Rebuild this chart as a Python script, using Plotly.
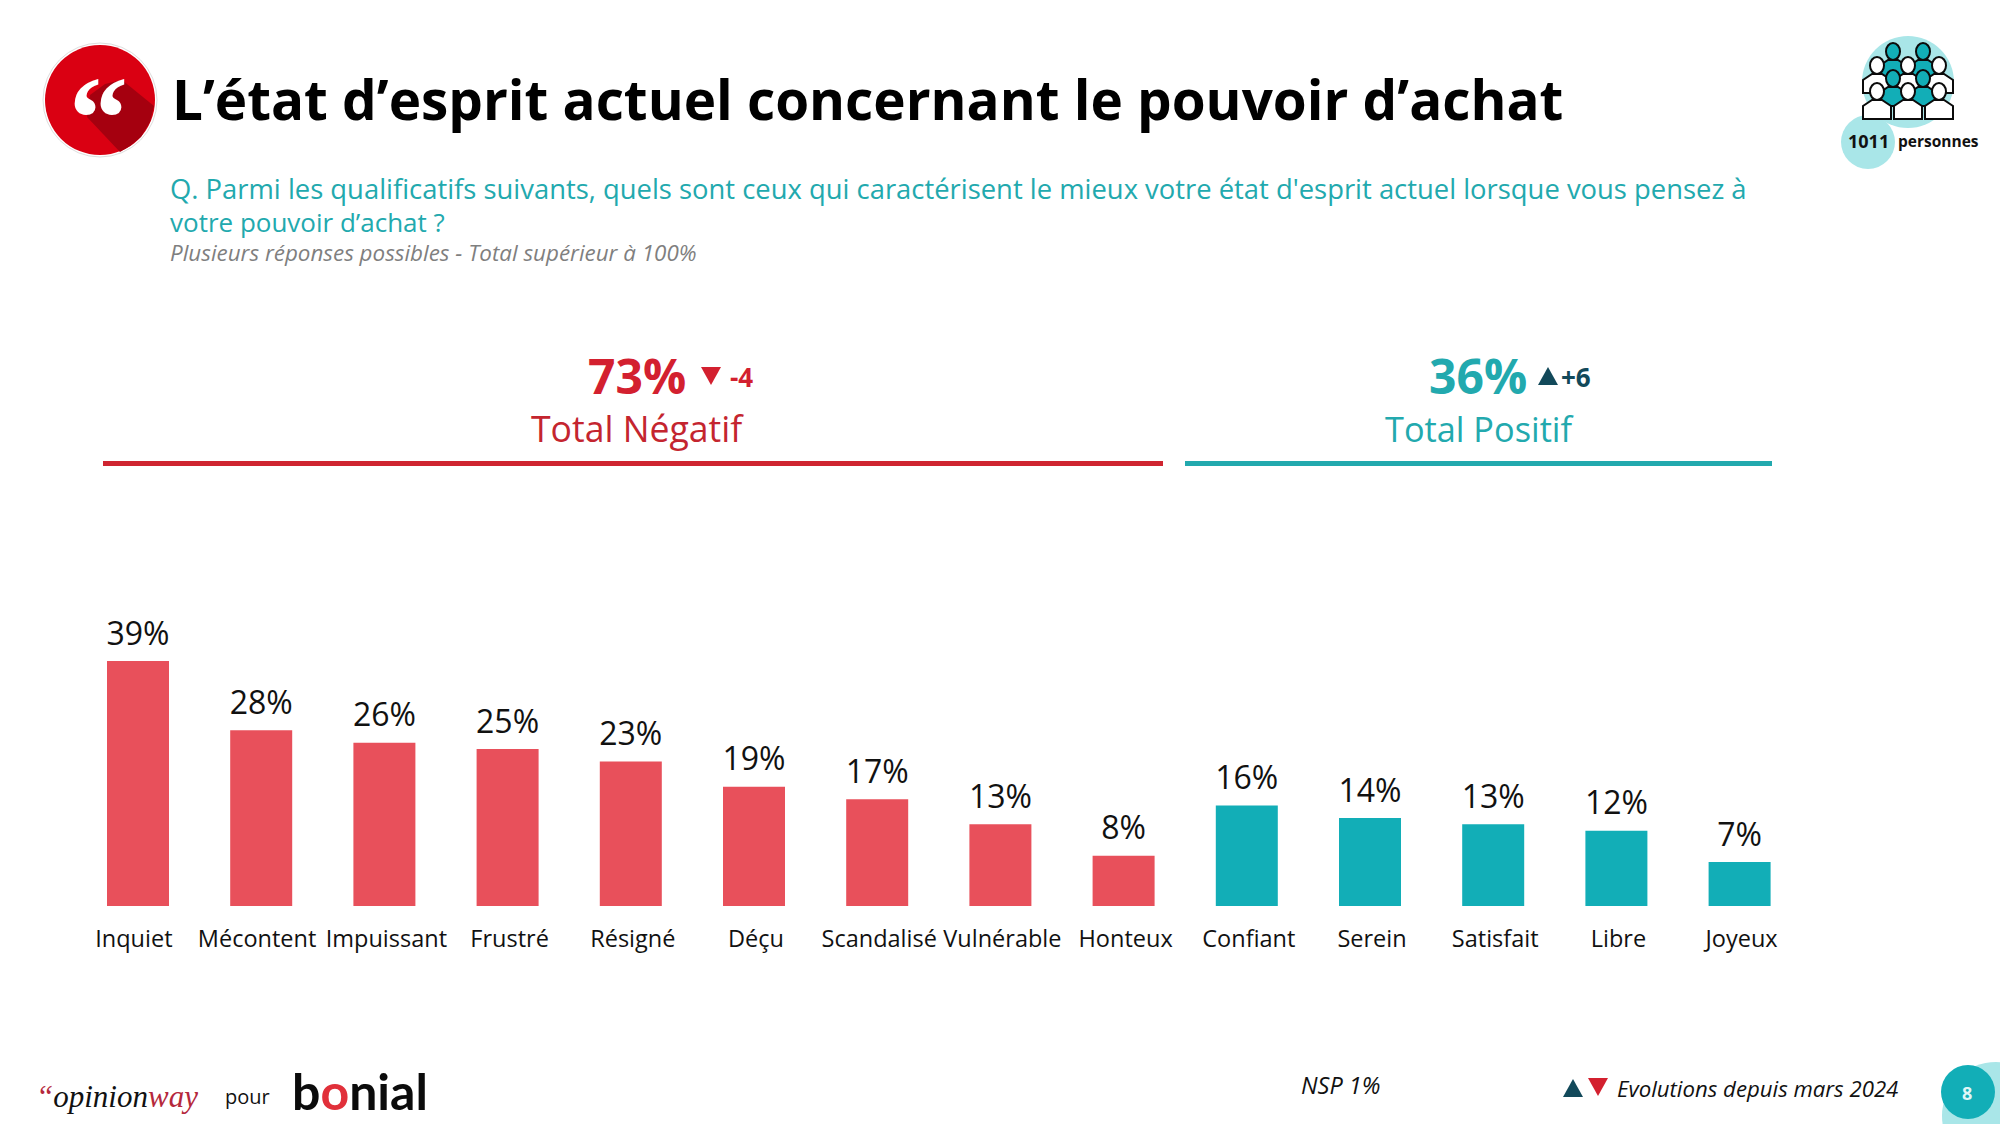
import plotly.graph_objects as go

W, H = 2000, 1124
neg_categories = ["Inquiet", "Mécontent", "Impuissant", "Frustré", "Résigné", "Déçu", "Scandalisé", "Vulnérable", "Honteux"]
neg_values = [39, 28, 26, 25, 23, 19, 17, 13, 8]
pos_categories = ["Confiant", "Serein", "Satisfait", "Libre", "Joyeux"]
pos_values = [16, 14, 13, 12, 7]
tick_labels = ["Inquiet\u00a0\u00a0", "Mécontent\u00a0\u00a0", "Impuissant", "Frustré", "Résigné", "Déçu", "Scandalisé",
               "Vulnérable", "Honteux", "Confiant", "Serein", "Satisfait", "Libre", "Joyeux"]

FONT = "Open Sans"
RED_BAR, TEAL_BAR = "#E8505B", "#12AEB7"
RED, TEAL, DARK = "#D3202F", "#22A9AE", "#12495A"
LIGHT = "#A9E6E8"

def px(x): return x / W
def py(y): return 1 - y / H

shapes, annotations = [], []

def text(x, y, s, size, color="#000", anchor="left", bold=False, italic=False, font=FONT):
    t = s
    if bold: t = f"<b>{t}</b>"
    if italic: t = f"<i>{t}</i>"
    annotations.append(dict(x=px(x), y=py(y), xref="paper", yref="paper", text=t, showarrow=False,
                            xanchor=anchor, yanchor="middle", align=anchor,
                            font=dict(family=font, size=size, color=color),
                            borderpad=0, borderwidth=0))

def circle(cx, cy, r, fill, line=None, lw=0):
    shapes.append(dict(type="circle", xref="paper", yref="paper", x0=px(cx - r), x1=px(cx + r),
                       y0=py(cy + r), y1=py(cy - r), fillcolor=fill, line=dict(color=line or fill, width=lw), layer="above"))

def poly(points, fill, line=None, lw=0):
    d = "M " + " L ".join(f"{px(x):.5f},{py(y):.5f}" for x, y in points) + " Z"
    shapes.append(dict(type="path", xref="paper", yref="paper", path=d, fillcolor=fill,
                       line=dict(color=line or fill, width=lw), layer="above"))

def rect(x0, y0, x1, y1, fill):
    shapes.append(dict(type="rect", xref="paper", yref="paper", x0=px(x0), x1=px(x1), y0=py(y1), y1=py(y0),
                       fillcolor=fill, line=dict(width=0), layer="above"))

# Title badge
circle(100, 100, 57, "#FFFFFF", "#DDDDDD", 1)
circle(100, 100, 55, "#DA0012")
poly([(87, 117), (90, 95), (105, 84), (122, 80), (154, 106), (150, 122), (141, 137), (130, 146), (120, 152)], "#A5000F")
text(98, 118, "“", 118, "#FFFFFF", "center", True, font="Liberation Serif")

# Header
text(172, 98, "L’état d’esprit actuel concernant le pouvoir d’achat", 54.8, "#000", bold=True)
text(170, 188, "Q. Parmi les qualificatifs suivants, quels sont ceux qui caractérisent le mieux votre état d'esprit actuel lorsque vous pensez à", 27.4, TEAL)
text(170, 222, "votre pouvoir d’achat ?", 26, TEAL)
text(170, 253, "Plusieurs réponses possibles - Total supérieur à 100%", 22.4, "#7F7F7F", italic=True)

# Group headers
text(637, 375, "73%", 48, RED, "center", True)
poly([(701, 367), (721, 367), (711, 385)], RED)
text(741, 377, "-4", 26, RED, "center", True)
text(637, 428, "Total Négatif", 35.6, "#C4252F", "center")
rect(103, 461, 1163, 466, "#CF2530")
text(1478, 375, "36%", 48, TEAL, "center", True)
poly([(1538, 385), (1558, 385), (1548, 367)], DARK)
text(1576, 377, "+6", 26, DARK, "center", True)
text(1480, 428, "Total Positif", 34.3, TEAL, "center")
rect(1185, 461, 1772, 466, TEAL)

# Sample icon
circle(1908, 82, 46, LIGHT)
circle(1868, 142, 27, LIGHT)
def person(cx, top, fill):
    b = top + 17
    poly([(cx - 14, b + 19), (cx - 14, b + 6), (cx - 5, b), (cx + 5, b), (cx + 14, b + 6), (cx + 14, b + 19)],
         fill, "#0B0B0B", 2)
    shapes.append(dict(type="circle", xref="paper", yref="paper", x0=px(cx - 7), x1=px(cx + 7), y0=py(top + 17), y1=py(top),
                       fillcolor=fill, line=dict(color="#0B0B0B", width=2), layer="above"))
for cx in (1893, 1923):
    person(cx, 43, TEAL_BAR)
for cx in (1877, 1908, 1939):
    person(cx, 57, "#FFFFFF")
for cx in (1893, 1923):
    person(cx, 70, TEAL_BAR)
for cx in (1877, 1908, 1939):
    person(cx, 83, "#FFFFFF")
text(1868, 141, "1011", 18, "#111", "center", True)
text(1898, 141, "personnes", 15.5, "#111", bold=True)

# Footer
text(36, 1096, "<span style='color:#B5283C'>“</span>opinion<span style='color:#B5283C'>way</span>", 31, "#111", italic=True, font="Liberation Serif")
text(225, 1096, "pour", 20, "#111", font=FONT)
text(292, 1091, "b<span style='color:#E1303A'>o</span>nial", 50, "#0B0B0B", bold=True, font="Lato")
text(1340, 1085, "NSP 1%", 23.5, "#111", "center", italic=True)
poly([(1563, 1097), (1583, 1097), (1573, 1079)], DARK)
poly([(1588, 1078), (1608, 1078), (1598, 1096)], RED)
text(1617, 1088, "Evolutions depuis mars 2024", 22.2, "#111", italic=True)
circle(1996, 1116, 54, LIGHT)
circle(1968, 1092, 27, TEAL_BAR)
text(1967, 1093, "8", 18, "#DFF6F6", "center", True)

categories = neg_categories + pos_categories
step, first = 123.2, 138
data_bar_width = 62 / step
traces = [(neg_categories, neg_values, RED_BAR), (pos_categories, pos_values, TEAL_BAR)]
fig = go.Figure()
for c, v, col in traces:
    fig.add_bar(x=c, y=v, marker=dict(color=col, line=dict(width=0)), width=data_bar_width, showlegend=False)
    fig.add_scatter(x=c, y=v, mode="markers+text", marker=dict(size=12, opacity=0), texttemplate="%{y}%",
                    textposition="top center", cliponaxis=False, hoverinfo="skip",
                    textfont=dict(family=FONT, size=32, color="#111"), showlegend=False)

fig.update_layout(
    width=W, height=H, autosize=False, margin=dict(l=0, r=0, t=0, b=0),
    paper_bgcolor="white", plot_bgcolor="white", barmode="overlay", showlegend=False,
    font=dict(family=FONT), shapes=shapes, annotations=annotations,
    xaxis=dict(type="category", categoryorder="array", categoryarray=categories,
               tickmode="array", tickvals=categories, ticktext=tick_labels, tickangle=0,
               range=[-first / step, (W - first) / step], domain=[0, 1], showgrid=False, zeroline=False,
               showline=False, ticks="", ticklabelshift=2, ticklabelstandoff=16,
               tickfont=dict(family=FONT, size=23.5, color="#111"), fixedrange=True),
    yaxis=dict(range=[0, 906 / 6.28], domain=[1 - 906 / H, 1], visible=False, fixedrange=True),
)
fig.write_html("out.html", config={"displayModeBar": False},
               post_script="document.body.style.margin='0';document.documentElement.style.overflow='hidden';")
